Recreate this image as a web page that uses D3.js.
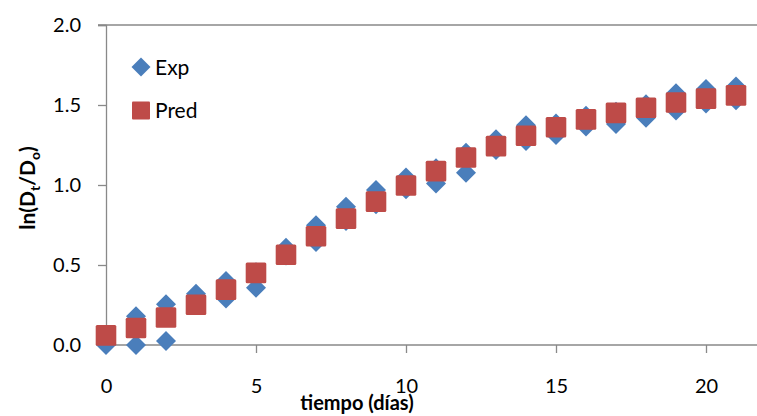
<!DOCTYPE html>
<html><head><meta charset="utf-8">
<script src="https://cdn.jsdelivr.net/npm/d3@7"></script>
<style>body{margin:0;background:#fff}svg{display:block}text{font-family:Lato,"Open Sans",sans-serif}</style>
</head><body><svg id="c" width="757" height="416"></svg>
<script>
const days = [0,1,2,3,4,5,6,7,8,9,10,11,12,13,14,15,16,17,18,19,20,21];
const expA = [0.05,0.18,0.254,0.32,0.40,0.455,0.608,0.748,0.864,0.969,1.047,1.104,1.202,1.286,1.373,1.385,1.433,1.458,1.504,1.573,1.60,1.615];
const expB = [0.0,0.0,0.025,0.26,0.29,0.358,0.56,0.644,0.775,0.88,0.974,1.01,1.077,1.219,1.275,1.3125,1.365,1.381,1.42,1.465,1.51,1.53];
const pred = [0.06,0.106,0.172,0.252,0.346,0.451,0.564,0.68,0.79,0.896,0.997,1.087,1.172,1.243,1.308,1.361,1.41,1.451,1.483,1.516,1.54,1.56];
const xTicks = [0,5,10,15,20];
const yTicks = [0,0.5,1.0,1.5,2.0];
const blue = "#4A7EBB", red = "#BE4B48", axisCol = "#898989";

const svg = d3.select("#c");
const x = d3.scaleLinear().domain([0,20]).range([106,706]);
const y = d3.scaleLinear().domain([0,2]).range([345,25]);

// top line at 2.0
svg.append("line").attr("x1",98).attr("x2",757).attr("y1",y(2)).attr("y2",y(2)).attr("stroke",axisCol).attr("stroke-width",1.3);

const yAxis = svg.append("g").attr("transform","translate(106,0)")
  .call(d3.axisLeft(y).tickValues(yTicks).tickFormat(d3.format(".1f")).tickSize(8).tickPadding(17));
yAxis.select(".domain").attr("stroke",axisCol).attr("stroke-width",1.3);
yAxis.selectAll(".tick line").attr("stroke",axisCol).attr("stroke-width",1.3);
yAxis.selectAll("text").attr("font-size",20).attr("fill","#000").style("font-family","Lato,'Open Sans',sans-serif");

const xAxis = svg.append("g").attr("transform","translate(0,345)")
  .call(d3.axisBottom(x).tickValues(xTicks).tickFormat(d3.format("d")).tickSize(8).tickPadding(26));
xAxis.select(".domain").remove();
xAxis.append("line").attr("x1",106).attr("x2",757).attr("y1",0).attr("y2",0).attr("stroke",axisCol).attr("stroke-width",1.3);
xAxis.selectAll(".tick line").attr("stroke",axisCol).attr("stroke-width",1.3);
xAxis.selectAll(".tick").filter(d=>d===0).select("line").remove();
xAxis.selectAll("text").attr("font-size",20).attr("fill","#000").style("font-family","Lato,'Open Sans',sans-serif");

const diamond = s => `M0,${-s/2}L${s/2},0L0,${s/2}L${-s/2},0Z`;
const expPts = days.map((d,i)=>[d,expA[i]]).concat(days.map((d,i)=>[d,expB[i]]));
svg.append("g").selectAll("path").data(expPts).join("path")
  .attr("d",diamond(20)).attr("transform",d=>`translate(${x(d[0])},${y(d[1])})`).attr("fill",blue);
svg.append("g").selectAll("rect").data(days.map((d,i)=>[d,pred[i]])).join("rect")
  .attr("x",d=>x(d[0])-10.3).attr("y",d=>y(d[1])-10.3).attr("width",20.6).attr("height",20.6)
  .attr("rx",1.5).attr("fill",red);

// legend
svg.append("path").attr("d",diamond(19)).attr("transform","translate(141,67)").attr("fill",blue);
svg.append("text").attr("x",155).attr("y",75).attr("font-size",21).text("Exp");
svg.append("rect").attr("x",132).attr("y",101.5).attr("width",18).attr("height",18).attr("rx",1).attr("fill",red);
svg.append("text").attr("x",155).attr("y",118).attr("font-size",21).text("Pred");

// axis titles
svg.append("text").attr("x",357).attr("y",410).attr("text-anchor","middle").attr("font-size",20).attr("font-weight","bold").text("tiempo (días)");
const yl = svg.append("text").attr("transform","translate(35,188) rotate(-90)").attr("text-anchor","middle").attr("font-size",21).attr("font-weight","bold");
yl.append("tspan").text("ln(D");
yl.append("tspan").attr("font-size",14).attr("dy",5).text("t");
yl.append("tspan").attr("dy",-5).text("/D");
yl.append("tspan").attr("font-size",14).attr("dy",5).text("o");
yl.append("tspan").attr("dy",-5).text(")");
</script></body></html>
